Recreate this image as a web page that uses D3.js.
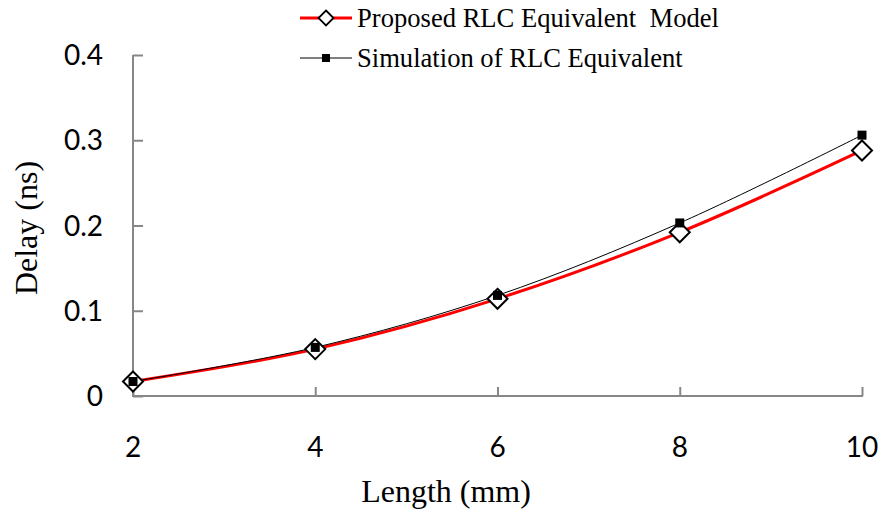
<!DOCTYPE html>
<html>
<head>
<meta charset="utf-8">
<script src="https://cdn.jsdelivr.net/npm/d3@7"></script>
<style>
  html, body { margin: 0; padding: 0; background: #fff; }
  svg { display: block; }
</style>
</head>
<body>
<svg id="chart" width="884" height="513"></svg>
<script>
// ---- data ----
const lengths = [2, 4, 6, 8, 10];
const proposed = [0.017, 0.055, 0.114, 0.192, 0.288];
const simulation = [0.017, 0.057, 0.118, 0.203, 0.306];
const yTicks = [0, 0.1, 0.2, 0.3, 0.4];
const xTicks = [2, 4, 6, 8, 10];
const seriesNames = ["Proposed RLC Equivalent  Model", "Simulation of RLC Equivalent"];

const svg = d3.select("#chart");
const x = d3.scaleLinear().domain([2, 10]).range([133, 862]);
const y = d3.scaleLinear().domain([0, 0.4]).range([396, 55]);

const axisColor = "#878787";
const tickFont = "Lato, 'Open Sans', sans-serif";
const serif = "'Liberation Serif', 'Times New Roman', serif";

// y axis
const yAxis = svg.append("g").attr("transform", `translate(${x(2)},0)`)
  .call(d3.axisRight(y).tickValues(yTicks).tickSize(10).tickFormat(""));
yAxis.select(".domain").remove();
yAxis.selectAll("line").attr("stroke", axisColor).attr("stroke-width", 2);
svg.append("line").attr("x1", x(2)).attr("x2", x(2)).attr("y1", y(0.4)).attr("y2", y(0) + 1)
  .attr("stroke", axisColor).attr("stroke-width", 2);

// x axis
const xAxis = svg.append("g").attr("transform", `translate(0,${y(0)})`)
  .call(d3.axisTop(x).tickValues(xTicks).tickSize(9).tickFormat(""));
xAxis.select(".domain").remove();
xAxis.selectAll("line").attr("stroke", axisColor).attr("stroke-width", 2);
svg.append("line").attr("x1", x(2) - 1).attr("x2", x(10) + 1).attr("y1", y(0)).attr("y2", y(0))
  .attr("stroke", axisColor).attr("stroke-width", 2);

// tick labels
svg.append("g").selectAll("text").data(yTicks).join("text")
  .attr("x", 103).attr("y", d => y(d)).attr("dy", "0.36em")
  .attr("text-anchor", "end")
  .style("font-family", tickFont).style("font-size", "28px").attr("fill", "#000")
  .text(d => d === 0 ? "0" : d3.format(".1f")(d));
svg.append("g").selectAll("text").data(xTicks).join("text")
  .attr("x", d => x(d)).attr("y", 457)
  .attr("text-anchor", "middle")
  .style("font-family", tickFont).style("font-size", "28px").attr("fill", "#000")
  .text(d => d);

// axis titles
svg.append("text").attr("x", 446).attr("y", 502).attr("text-anchor", "middle")
  .style("font-family", serif).style("font-size", "32px").text("Length (mm)");
svg.append("text").attr("transform", "translate(37,228) rotate(-90)").attr("text-anchor", "middle")
  .style("font-family", serif).style("font-size", "32px").text("Delay (ns)");

// lines
const line = d3.line().x((d, i) => x(lengths[i])).y(d => y(d)).curve(d3.curveCatmullRom.alpha(0));
svg.append("path").datum(proposed).attr("d", line).attr("fill", "none")
  .attr("stroke", "#ff0000").attr("stroke-width", 3);
svg.append("path").datum(simulation).attr("d", line).attr("fill", "none")
  .attr("stroke", "#000").attr("stroke-width", 1);

const diamond = s => `M0,${-s}L${s},0L0,${s}L${-s},0Z`;
// markers
svg.append("g").selectAll("path").data(proposed).join("path")
  .attr("transform", (d, i) => `translate(${x(lengths[i])},${y(d)})`)
  .attr("d", diamond(10)).attr("fill", "#fff").attr("stroke", "#000").attr("stroke-width", 2);
svg.append("g").selectAll("rect").data(simulation).join("rect")
  .attr("x", (d, i) => x(lengths[i]) - 4.5).attr("y", d => y(d) - 4.5)
  .attr("width", 9).attr("height", 9).attr("fill", "#000");

// legend
const lg = svg.append("g");
lg.append("line").attr("x1", 300).attr("x2", 352).attr("y1", 18).attr("y2", 18)
  .attr("stroke", "#ff0000").attr("stroke-width", 3);
lg.append("path").attr("transform", "translate(326,18)").attr("d", diamond(7.5))
  .attr("fill", "#fff").attr("stroke", "#000").attr("stroke-width", 1.8);
lg.append("line").attr("x1", 300).attr("x2", 352).attr("y1", 58).attr("y2", 58)
  .attr("stroke", "#000").attr("stroke-width", 1);
lg.append("rect").attr("x", 322).attr("y", 54).attr("width", 8).attr("height", 8).attr("fill", "#000");
lg.selectAll("text").data(seriesNames).join("text")
  .attr("x", 357).attr("y", (d, i) => 27 + i * 40)
  .attr("xml:space", "preserve").style("white-space", "pre")
  .style("font-family", serif).style("font-size", "26.6px").text(d => d);
</script>
</body>
</html>
